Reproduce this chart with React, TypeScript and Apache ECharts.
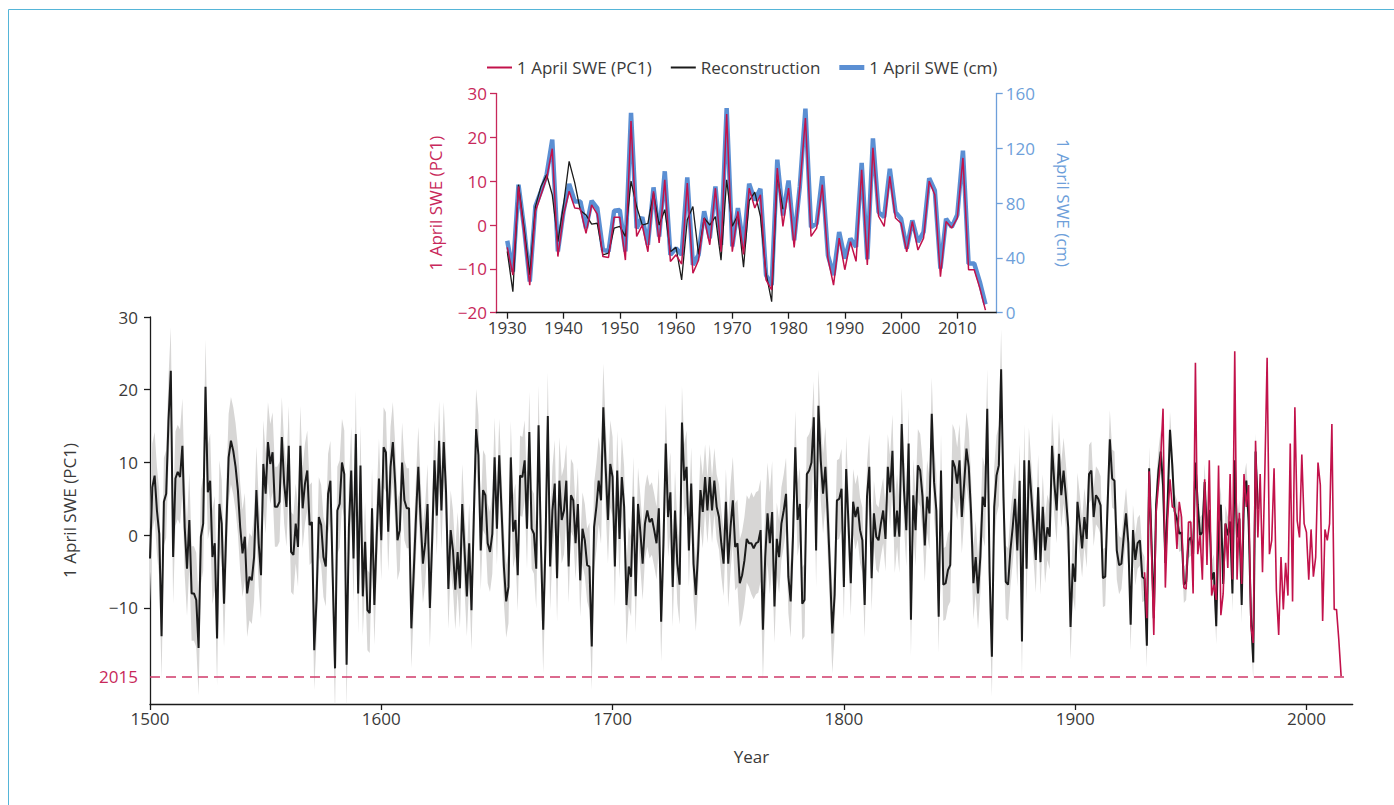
import React, { useEffect, useRef } from 'react';
import * as echarts from 'echarts';

// ---------- data ----------
const reconStartYear = 1500;
// Reconstructed 1 April SWE (PC1), 1500-1979
const recon = [
  -3.2, 6.6, 8.2, 3.4, 0.2, -13.9, 4.6, 5.7, 15.8, 22.6,
  -3.0, 7.8, 8.7, 8.0, 12.3, 1.1, -4.6, 2.1, -8.0, -8.0,
  -8.9, -15.5, -0.2, 1.6, 20.4, 5.9, 7.5, -3.0, -1.1, -14.2,
  4.3, 1.6, -9.4, 1.1, 10.7, 13.0, 11.6, 9.4, 6.2, 1.1,
  -2.5, -0.2, -8.0, -5.7, -6.2, -3.0, 6.2, -1.1, -5.5, 9.8,
  5.7, 12.8, 9.8, 11.4, 3.9, 3.9, 4.6, 13.5, 7.1, 3.9,
  12.3, -2.3, -2.7, 1.6, -1.6, 12.3, 3.7, 7.1, 8.9, 1.4,
  1.8, -15.8, -8.9, 2.5, 1.4, -3.0, -4.3, 5.7, 7.5, -5.7,
  -18.3, 3.4, 4.3, 10.0, 8.4, -17.8, 1.1, 8.9, -3.2, 13.9,
  -8.0, 9.6, -8.4, -0.9, -10.3, -10.7, 3.7, -9.6, -0.2, 7.8,
  -0.7, 12.1, 11.4, 0.5, 9.4, 12.8, 7.1, -0.7, 0.7, 10.0,
  4.8, 3.7, 3.7, -12.8, -5.3, 2.5, 9.4, 2.1, -3.9, -1.1,
  4.3, -10.0, -0.7, 10.3, 2.7, 13.0, 3.4, 12.8, 5.9, -7.4,
  0.7, -2.1, -7.5, -2.3, -7.3, 4.3, -2.1, -8.4, -1.1, -10.3,
  2.5, 14.6, 11.0, -2.1, 6.2, 5.5, -1.1, -2.3, 0.2, 10.7,
  0.9, 11.0, 3.4, -4.3, -9.1, -7.1, 10.7, 0.5, 2.1, -5.5,
  8.2, 8.0, 10.3, 0.9, 14.2, 0.9, 0.2, -4.6, 15.1, -1.1,
  -13.0, -1.1, 16.4, -4.3, 3.4, 7.1, -5.9, 7.5, 2.1, 3.4,
  7.5, -4.3, 5.5, 4.8, -1.1, 4.3, -6.2, 0.9, -0.7, -4.1,
  -4.3, -15.3, 1.1, 3.9, 7.5, 4.8, 17.6, 9.4, 2.1, 9.8,
  8.0, -4.3, 8.9, -0.5, 8.0, 3.9, -9.6, -4.3, -5.7, 5.3,
  -8.4, 4.3, 0.5, -3.9, 1.6, 3.4, 1.8, 2.3, 0.7, -1.1,
  3.7, -11.9, -1.1, 12.6, 2.5, 5.9, -7.1, 3.4, -3.9, -6.8,
  15.5, 7.5, 9.4, -2.1, 7.1, -3.9, -8.2, -2.1, 6.2, 3.2,
  8.0, 3.4, 8.0, 3.4, 7.5, 3.9, 2.5, -1.1, -3.9, 4.6,
  -3.9, 1.1, 4.8, -1.6, -1.1, -6.6, -5.5, -3.5, -0.5, -1.1,
  -1.1, -1.8, -1.1, -0.9, 0.7, -13.0, -3.0, 3.0, -1.1, 3.2,
  -9.8, -0.5, -3.0, 1.6, 3.4, 5.7, -5.7, -9.1, -0.2, 12.1,
  2.1, 4.3, -9.4, -8.9, 8.4, 8.9, 10.0, 16.2, -2.1, 17.8,
  10.3, 5.7, 9.4, 3.0, -4.8, -13.5, -8.2, 4.8, 5.0, 6.4,
  -7.1, 9.1, 1.6, -6.6, 4.6, 2.5, 3.9, 0.7, -0.7, -9.6,
  5.3, 9.4, -5.9, 3.0, -0.2, -0.7, 1.6, 3.4, -0.5, 9.4,
  5.9, 11.6, -0.2, 3.4, -0.2, 15.3, 6.2, 0.7, 12.6, -11.6,
  5.5, 0.7, 9.6, 8.9, 5.3, -1.4, 5.3, 3.0, 16.7, 7.3,
  3.4, -11.2, 8.9, -6.8, -6.6, -4.8, -4.1, 10.3, 9.4, 7.1,
  10.3, 2.5, 7.1, 11.9, 9.4, 3.0, -6.6, -3.0, -8.0, -3.0,
  5.3, 3.9, 17.4, -5.0, -16.7, 3.9, 8.2, 9.6, 22.8, 5.3,
  -6.4, -6.8, -2.1, 1.1, 5.0, -2.1, 7.5, -14.6, 10.3, -4.6,
  10.3, 5.7, 1.1, -3.4, 6.6, -3.7, 3.9, -2.1, 1.1, -0.2,
  12.3, 7.1, 3.4, 11.2, 5.5, 8.9, 5.3, 1.1, -12.6, -3.9,
  -6.4, 4.6, 1.6, -1.8, 2.5, -0.5, 8.4, 8.9, 2.5, 5.5,
  5.0, 4.1, -5.9, -5.7, 3.9, 13.2, 7.8, 7.5, -2.1, -4.1,
  -3.9, -0.2, 3.0, -1.1, -12.3, 0.7, -3.4, -1.1, -0.7, -5.7,
  -6.0, -15.2, 9.2, -0.7, -11.4, 4.2, 8.8, 11.5, 6.9, -3.8,
  4.6, 14.5, 9.6, 3.3, 2.3, 0.2, 0.4, -6.8, -6.4, -0.7,
  -0.3, -2.6, 10.0, 4.2, 0.0, 0.4, 7.3, 0.0, 3.5, -6.1,
  -5.1, -12.5, 1.2, 4.2, -6.7, 1.6, 0.0, 1.9, -8.0, 10.3,
  -0.3, 2.3, -9.6, 5.5, 7.5, 2.0, -11.0, -17.5, 11.5, 3.6,
];
// Half-width of the grey uncertainty band, one value per decade (1500s ... 1970s)
const bandHalfWidthByDecade = [
  6.0, 6.5, 6.5, 6.0, 6.0, 5.5, 5.5, 5.5, 6.0, 5.5,
  5.5, 5.5, 5.5, 5.5, 5.5, 5.0, 5.5, 6.0, 5.0, 6.0,
  5.5, 5.0, 5.5, 5.0, 4.5, 6.0, 7.0, 5.0, 5.0, 5.5,
  4.5, 4.5, 5.0, 5.0, 5.0, 5.0, 5.5, 5.0, 4.5, 4.5,
  4.0, 4.0, 3.5, 3.0, 2.5, 2.5, 2.5, 2.5,
];

const obsStartYear = 1930;
// Observed 1 April SWE (PC1), 1930-2015
const pc1 = [
  -5.1, -11.4, 8.8, -2.0, -13.7, 3.1, 6.9, 10.7, 17.4, -7.2,
  2.3, 7.7, 3.9, 3.7, -1.9, 4.6, 2.5, -7.2, -7.4, 1.8,
  1.8, -8.0, 23.7, -2.6, 0.0, -6.1, 7.7, -4.1, 10.3, -8.3,
  -6.8, -8.9, 9.6, -11.0, -8.0, 1.6, -4.5, 8.4, -6.1, 25.3,
  -6.1, 3.1, -6.7, 8.4, 3.9, 6.9, -12.5, -14.8, 13.0, -0.3,
  8.4, -5.1, 8.5, 24.4, -2.6, -0.7, 9.2, -7.6, -13.7, -3.0,
  -10.2, -3.8, -8.3, 12.6, -9.1, 17.6, 2.0, -0.3, 11.1, 1.6,
  0.4, -6.1, 0.8, -5.7, -3.0, 10.0, 6.9, -11.8, 0.8, -0.7,
  1.6, 15.3, -10.2, -10.2, -14.4, -19.4,
];
// Observed 1 April SWE (cm), 1930-2015
const sweCm = [
  52.5, 30.0, 93.4, 61.7, 22.7, 77.6, 88.6, 100.8, 126.4, 44.7,
  74.0, 94.0, 81.2, 81.2, 61.7, 81.7, 76.4, 45.9, 44.7, 74.4,
  74.9, 44.7, 145.8, 61.7, 69.8, 49.5, 91.5, 55.6, 103.2, 42.2,
  47.1, 42.2, 98.7, 34.9, 42.2, 74.0, 54.4, 92.2, 49.5, 149.4,
  48.3, 76.4, 48.3, 94.1, 82.0, 90.4, 27.4, 20.1, 111.7, 71.0,
  96.5, 52.8, 92.0, 149.0, 62.5, 65.0, 99.6, 41.9, 27.4, 58.9,
  39.5, 54.1, 48.0, 109.3, 39.0, 127.3, 73.4, 69.8, 105.0, 73.4,
  68.6, 46.8, 67.4, 51.6, 58.9, 98.2, 89.2, 32.2, 68.6, 62.5,
  71.5, 118.3, 35.9, 35.9, 22.5, 6.1,
];

const mainXTicks = [1500, 1600, 1700, 1800, 1900, 2000];
const mainYTicks = [-10, 0, 10, 20, 30];
const insetXTicks = [1930, 1940, 1950, 1960, 1970, 1980, 1990, 2000, 2010];

// ---------- style ----------
const FONT = 'Open Sans';
const TEXT = '#3a3a3a';
const RED = '#c2124b';
const RED_AXIS = '#c8285a';
const DASH = '#d03a6a';
const BLACK = '#1b1b1b';
const BLUE = '#5b8fd3';
const BLUE_AXIS = '#6e9fda';
const GREY = '#d7d6d5';
const FRAME = '#55b5d8';

const minusFmt = (v: number) => (v < 0 ? '\u2212' + Math.abs(v) : String(v));
const plainFmt = (v: number) => String(v);

export default function App() {
  const ref = useRef<HTMLDivElement>(null);

  useEffect(() => {
    if (!ref.current) return;
    const chart = echarts.init(ref.current, null, { renderer: 'svg' });

    const reconYears = recon.map((_, i) => reconStartYear + i);
    const reconData = recon.map((v, i) => [reconYears[i], v]);
    const bandLo = recon.map((v, i) => v - bandHalfWidthByDecade[Math.floor(i / 10)]);
    const bandHi = recon.map((v, i) => v + bandHalfWidthByDecade[Math.floor(i / 10)]);
    const bandData = recon.map((_, i) => [reconYears[i], bandLo[i], bandHi[i]]);

    const obsYears = pc1.map((_, i) => obsStartYear + i);
    const pc1Data = pc1.map((v, i) => [obsYears[i], v]);
    const cmData = sweCm.map((v, i) => [obsYears[i], v]);
    const reconInset = reconData.filter((d) => d[0] >= obsStartYear);
    const lastYear = obsYears[obsYears.length - 1];
    const lastVal = pc1[pc1.length - 1];

    const option: any = {
      animation: false,
      textStyle: { fontFamily: FONT },
      graphic: [
        {
          type: 'rect',
          silent: true,
          z: -10,
          shape: { x: 8.5, y: 9.5, width: 1420, height: 830 },
          style: { fill: 'none', stroke: FRAME, lineWidth: 1 },
        },
      ],
      legend: {
        left: 482,
        top: 54,
        itemWidth: 25,
        itemHeight: 14,
        itemGap: 19,
        selectedMode: false,
        itemStyle: { borderWidth: 0 },
        textStyle: { fontSize: 17, color: TEXT, fontFamily: FONT },
        data: [
          { name: '1 April SWE (PC1)', icon: 'path://M0 0H25V2H0Z', itemStyle: { color: RED, borderWidth: 0 } },
          { name: 'Reconstruction', icon: 'path://M0 0H25V2H0Z', itemStyle: { color: BLACK, borderWidth: 0 } },
          { name: '1 April SWE (cm)', icon: 'path://M0 0H25V5H0Z', itemStyle: { color: BLUE, borderWidth: 0 } },
        ],
      },
      grid: [
        { left: 150, right: 41.3, top: 317, bottom: 101 },
        { left: 496, right: 397.3, top: 93.5, bottom: 492.3 },
      ],
      xAxis: [
        {
          type: 'value',
          gridIndex: 0,
          min: 1500,
          max: 2020,
          name: 'Year',
          nameLocation: 'middle',
          nameGap: 44,
          nameTextStyle: { fontSize: 17, color: TEXT, fontFamily: FONT },
          axisLine: { show: true, onZero: false, lineStyle: { color: BLACK, width: 1.3 } },
          axisTick: { show: true, length: 6, lineStyle: { color: BLACK, width: 1.3 }, customValues: mainXTicks },
          axisLabel: { fontSize: 17, color: TEXT, margin: 6, customValues: mainXTicks, formatter: plainFmt, fontFamily: FONT },
          splitLine: { show: false },
        },
        {
          type: 'value',
          gridIndex: 1,
          min: 1928,
          max: 2017,
          axisLine: { show: true, onZero: false, lineStyle: { color: BLACK, width: 1.3 } },
          axisTick: { show: true, length: 6, lineStyle: { color: BLACK, width: 1.3 }, customValues: insetXTicks },
          axisLabel: { fontSize: 17, color: TEXT, margin: 6, customValues: insetXTicks, formatter: plainFmt, fontFamily: FONT },
          splitLine: { show: false },
        },
      ],
      yAxis: [
        {
          type: 'value',
          gridIndex: 0,
          min: -23.2,
          max: 30,
          name: '1 April SWE (PC1)',
          nameLocation: 'middle',
          nameGap: 72,
          nameTextStyle: { fontSize: 17, color: TEXT, fontFamily: FONT },
          axisLine: { show: true, onZero: false, lineStyle: { color: BLACK, width: 1.3 } },
          axisTick: { show: true, length: 6, lineStyle: { color: BLACK, width: 1.3 }, customValues: mainYTicks },
          axisLabel: { fontSize: 17, color: TEXT, margin: 12, customValues: mainYTicks, formatter: minusFmt, fontFamily: FONT },
          splitLine: { show: false },
        },
        {
          type: 'value',
          gridIndex: 1,
          min: -20,
          max: 30,
          interval: 10,
          position: 'left',
          name: '1 April SWE (PC1)',
          nameLocation: 'middle',
          nameGap: 52,
          nameTextStyle: { fontSize: 17, color: RED_AXIS, fontFamily: FONT },
          axisLine: { show: true, onZero: false, lineStyle: { color: RED_AXIS, width: 1.3 } },
          axisTick: { show: true, length: 6, lineStyle: { color: RED_AXIS, width: 1.3 } },
          axisLabel: { fontSize: 17, color: RED_AXIS, margin: 9, formatter: minusFmt, fontFamily: FONT },
          splitLine: { show: false },
        },
        {
          type: 'value',
          gridIndex: 1,
          min: 0,
          max: 160,
          interval: 40,
          position: 'right',
          name: '1 April SWE (cm)',
          nameLocation: 'middle',
          nameGap: 58,
          nameRotate: -90,
          nameTextStyle: { fontSize: 17, color: BLUE_AXIS, fontFamily: FONT },
          axisLine: { show: true, onZero: false, lineStyle: { color: BLUE_AXIS, width: 1.3 } },
          axisTick: { show: true, length: 6, lineStyle: { color: BLUE_AXIS, width: 1.3 } },
          axisLabel: { fontSize: 17, color: BLUE_AXIS, margin: 9, formatter: plainFmt, fontFamily: FONT },
          splitLine: { show: false },
        },
      ],
      series: [
        {
          name: 'band',
          type: 'custom',
          xAxisIndex: 0,
          yAxisIndex: 0,
          clip: true,
          silent: true,
          z: 1,
          data: bandData,
          encode: { x: 0, y: [1, 2] },
          renderItem: (params: any, api: any) => {
            if (params.dataIndex !== 0) return null;
            const pts: number[][] = [];
            for (let i = 0; i < bandData.length; i++) pts.push(api.coord([bandData[i][0], bandData[i][2]]));
            for (let i = bandData.length - 1; i >= 0; i--) pts.push(api.coord([bandData[i][0], bandData[i][1]]));
            return { type: 'polygon', shape: { points: pts }, style: { fill: GREY } };
          },
        },
        {
          name: 'Reconstruction',
          type: 'line',
          xAxisIndex: 0,
          yAxisIndex: 0,
          data: reconData,
          symbol: 'none',
          z: 2,
          lineStyle: { color: BLACK, width: 2 },
          itemStyle: { color: BLACK },
        },
        {
          name: '1 April SWE (PC1)',
          type: 'line',
          xAxisIndex: 0,
          yAxisIndex: 0,
          data: pc1Data,
          symbol: 'none',
          z: 3,
          lineStyle: { color: RED, width: 1.6 },
          itemStyle: { color: RED },
          markLine: {
            silent: true,
            symbol: 'none',
            lineStyle: { color: DASH, type: [10, 6], width: 1.5 },
            label: {
              show: true,
              position: 'start',
              formatter: String(lastYear),
              color: RED_AXIS,
              fontSize: 17,
              fontFamily: FONT,
              distance: 12,
            },
            data: [[{ coord: [1500, lastVal] }, { coord: [lastYear + 2, lastVal] }]],
          },
        },
        {
          name: '1 April SWE (cm)',
          type: 'line',
          xAxisIndex: 1,
          yAxisIndex: 2,
          data: cmData,
          symbol: 'none',
          z: 2,
          lineStyle: { color: BLUE, width: 4.5 },
          itemStyle: { color: BLUE },
        },
        {
          name: 'Reconstruction',
          type: 'line',
          xAxisIndex: 1,
          yAxisIndex: 1,
          data: reconInset,
          symbol: 'none',
          z: 3,
          lineStyle: { color: BLACK, width: 1.3 },
          itemStyle: { color: BLACK },
        },
        {
          name: '1 April SWE (PC1)',
          type: 'line',
          xAxisIndex: 1,
          yAxisIndex: 1,
          data: pc1Data,
          symbol: 'none',
          z: 4,
          lineStyle: { color: RED, width: 1.5 },
          itemStyle: { color: RED },
        },
      ],
    };

    chart.setOption(option);
    return () => chart.dispose();
  }, []);

  return (
    <div
      ref={ref}
      style={{ position: 'fixed', left: 0, top: 0, width: 1394, height: 805, background: '#ffffff' }}
    />
  );
}
